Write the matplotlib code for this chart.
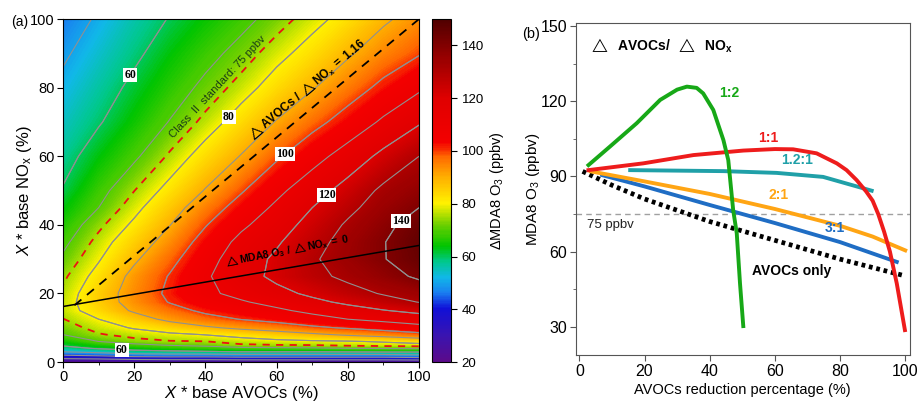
import numpy as np
import matplotlib
matplotlib.use('Agg')
import matplotlib.pyplot as plt
from matplotlib.colors import LinearSegmentedColormap
from matplotlib.ticker import MultipleLocator

plt.rcParams['font.family'] = ['Liberation Sans', 'DejaVu Sans']
plt.rcParams['mathtext.fontset'] = 'custom'
plt.rcParams['mathtext.rm'] = 'Liberation Sans'
plt.rcParams['mathtext.it'] = 'Liberation Sans:italic'
plt.rcParams['mathtext.bf'] = 'Liberation Sans:bold'

# ---------------- panel (a): dMDA8 O3 isopleth ----------------
avoc_pct = [0, 10, 20, 30, 40, 50, 60, 70, 80, 90, 100]
nox_pct = [0, 1, 2, 3, 4, 5, 6, 8, 10, 12.5, 15, 17.5, 20, 25, 30, 35, 40, 45, 50, 60, 70, 80, 90, 100]

# one list per AVOCs column, values going up in NOx
o3_x0 = [20, 30, 40, 50, 57, 61.4, 64.3, 70, 72.2, 74.8, 76.7, 76.8, 76, 73.9, 71.1, 68.4, 65.8, 63.2, 60.5, 57.4, 54.5, 51.7, 48.9, 46]
o3_x10 = [20, 31, 42, 53, 60.9, 65.5, 70, 74.5, 77.1, 80, 83.7, 85.4, 85.2, 82.5, 79.4, 76.8, 73.7, 70, 67.8, 63.4, 59.4, 56.6, 53.8, 51]
o3_x20 = [21, 33, 45, 57, 63.5, 68.5, 73.2, 76.8, 80.6, 86, 91.2, 93.4, 94, 92.5, 88.7, 85, 81.3, 78, 74.9, 68.9, 64.7, 61.7, 58.6, 56]
o3_x30 = [21, 34, 46, 58, 65.5, 70.7, 74.6, 78.5, 84.5, 92.2, 96.6, 100.5, 101.8, 100.6, 97.5, 93.7, 89.8, 86.1, 82.3, 75.8, 70.3, 66.6, 63.5, 60.4]
o3_x40 = [21, 34, 46, 59, 66.9, 71.8, 74.9, 80.2, 88.5, 96.8, 101.8, 105.6, 108.2, 108.8, 106.5, 103.5, 99.5, 95.2, 90.5, 83.2, 76.5, 71.6, 67.8, 64.3]
o3_x50 = [21, 35, 47, 60, 68.3, 74.5, 76.7, 82.6, 92, 100.3, 105.2, 109.1, 112.5, 116, 115.1, 112.5, 108.2, 103.7, 99.1, 90.4, 83.3, 77.1, 72.2, 68]
o3_x60 = [21, 35, 47, 60, 68.7, 75, 78, 85.4, 94.6, 103.3, 108.4, 112.9, 117.3, 122.2, 121.7, 118.9, 115.4, 111.8, 107.7, 98.7, 90.5, 83.3, 77.8, 72.5]
o3_x70 = [21, 35, 47, 60, 69, 75.3, 78.8, 88.3, 98.2, 106.7, 112.2, 117.8, 121.8, 127.3, 128.8, 126.5, 123.5, 120, 115.7, 106.4, 97.1, 89.4, 83, 77.7]
o3_x80 = [21, 35, 47, 60.5, 70, 76.5, 79.4, 91.3, 101, 110, 116.3, 121.8, 126.4, 132.2, 134.5, 133.6, 131.3, 127.6, 123.7, 114.1, 103.8, 95.7, 88.9, 82.7]
o3_x90 = [21, 35, 47, 61, 70.4, 77.3, 80.7, 94, 103.9, 112.5, 119.5, 126, 130.8, 136.5, 139.6, 139.6, 137.5, 134.8, 132, 122.5, 111.5, 102.2, 94.6, 88.7]
o3_x100 = [21, 36, 49, 61, 71, 77.7, 83.1, 97.3, 106.7, 115, 122.6, 130.3, 134, 141.5, 144.8, 146, 144.3, 140, 136.7, 130, 119, 108.5, 99.4, 93.5]

grey_levels = [30, 40, 50, 60, 70, 80, 90, 100, 110, 120, 130, 140]
label_levels = [60, 80, 100, 120, 140]
standard_level = 75
ratio = 1.16                       # dAVOCs / dNOx reduction path through (100, 100)
ratio_x = [3.2, 100]
ridge_x = [0, 100]                 # dMDA8 O3 / dNOx = 0
ridge_y = [16.2, 34]

# ---------------- panel (b) ----------------
g12_x = [2.8, 9.4, 17.6, 24.8, 30, 33, 36, 38, 41.1, 44.2, 45.7, 46.7, 47.2, 48.3, 49.3, 50.3]
g12_y = [94.5, 101.9, 111.2, 120.5, 124.6, 125.8, 125.3, 123.1, 116.5, 104.5, 96.5, 83.2, 76.6, 67.3, 47.3, 30.3]
r11_x = [2.8, 19.6, 35, 50.3, 60, 65.6, 72.8, 79, 82, 85.1, 88, 90, 91.7, 93.5, 95.3, 97.4, 99.9]
r11_y = [92.5, 95.2, 98.5, 100.3, 100.9, 100.8, 99.2, 95.2, 92.5, 88.5, 84, 80.3, 75, 68, 60, 47.3, 28.7]
t121_x = [15.6, 44.2, 60.5, 74.8, 89.7]
t121_y = [92.5, 92.1, 91.4, 89.8, 84.3]
o21_x = [3.5, 20, 40, 50, 60, 80, 90, 100]
o21_y = [92, 88, 83, 80, 77, 70.3, 66, 60.5]
b31_x = [7, 20, 40, 60, 80, 97.4]
b31_y = [90.5, 86, 78.6, 71.4, 63.8, 55.9]
only_x = [1, 10, 20, 40, 60, 80, 100]
only_y = [92, 86.5, 81, 72, 64.5, 57, 50.3]

cmap_vals = [20, 30, 40, 46, 52, 58, 64, 72, 80, 90, 98, 103, 120, 135, 150]
cmap_cols = ['#5b0a8a', '#3a14b0', '#1010d8', '#1a7ef0', '#10b8e8', '#00c88c', '#00c400',
             '#70d000', '#fff200', '#ffb000', '#ff6a00', '#f40000', '#e00000', '#9a0000', '#500000']
cmap = LinearSegmentedColormap.from_list(
    'o3', [((v - 20) / 130, c) for v, c in zip(cmap_vals, cmap_cols)])

fig = plt.figure(figsize=(9.19, 4.05), dpi=100)
ax = fig.add_axes([0.0686, 0.106, 0.3874, 0.847])
cax = fig.add_axes([0.470, 0.106, 0.021, 0.847])
bx = fig.add_axes([0.6265, 0.123, 0.3635, 0.821])

X, Y = np.meshgrid(avoc_pct, nox_pct)
Z = np.array([o3_x0, o3_x10, o3_x20, o3_x30, o3_x40, o3_x50, o3_x60,
              o3_x70, o3_x80, o3_x90, o3_x100]).T

pc = ax.contourf(X, Y, Z, levels=np.arange(19.5, 151, 0.5), cmap=cmap, vmin=20, vmax=150)
ax.contour(X, Y, Z, levels=grey_levels, colors='#909090', linewidths=0.8)
cs = ax.contour(X, Y, Z, levels=label_levels, colors='#909090', linewidths=0.8)
ax.contour(X, Y, Z, levels=[standard_level], colors='#ee1111', linewidths=1.3,
           linestyles=[(0, (4, 3.5))])

lab_pos = [(20, 83), (16.5, 2.7), (46.4, 71.7), (62.4, 60.6), (73.6, 49.2), (94.7, 41.4)]
labels = ax.clabel(cs, manual=lab_pos, inline=False, fmt='%d', fontsize=8.5, colors='black')
for t in labels:
    t.set_rotation(0)
    t.set_fontfamily('Liberation Serif')
    t.set_fontweight('bold')
    t.set_bbox(dict(facecolor='white', edgecolor='none', pad=0.8))

rx = np.array(ratio_x)
ax.plot(rx, 100 - (100 - rx) / ratio, color='black', lw=1.3, dashes=(5, 4))
ax.plot(ridge_x, ridge_y, color='black', lw=1.1)

ax.text(43.3, 80.2, 'Class  II  standard: 75 ppbv', rotation=47, ha='center', va='center',
        fontsize=8, color='#173d17')
ax.text(68.4, 79.3, r'$\mathbf{\triangle AVOCs\ /\ \triangle NO_x\ =\ 1.16}$', rotation=40,
        ha='center', va='center', fontsize=8.5)
ax.text(62.8, 32.4, r'$\mathbf{\triangle MDA8\ O_3\ /\ \triangle NO_x\ =\ 0}$', rotation=11,
        ha='center', va='center', fontsize=7.5)

ax.set_xlim(0, 100)
ax.set_ylim(0, 100)
ax.xaxis.set_major_locator(MultipleLocator(20))
ax.xaxis.set_minor_locator(MultipleLocator(10))
ax.yaxis.set_major_locator(MultipleLocator(20))
ax.tick_params(labelsize=10.5, direction='out', length=4, pad=2)
ax.tick_params(which='minor', length=2.5)
ax.set_xlabel('$X$ * base AVOCs (%)', fontsize=12, labelpad=0)
ax.set_ylabel('$X$ * base NO$_\\mathregular{x}$ (%)', fontsize=12, labelpad=-3)
fig.text(0.012, 0.935, '(a)', fontsize=10)

cb = fig.colorbar(pc, cax=cax, ticks=[20, 40, 60, 80, 100, 120, 140])
cb.ax.tick_params(labelsize=9.5, length=4)
cb.set_label('ΔMDA8 O$_\\mathregular{3}$ (ppbv)', fontsize=10.5, labelpad=3)
cb.outline.set_linewidth(0.8)
cax.set_ylim(20, 150)

# ---------------- panel (b) ----------------
bx.axhline(75, color='#a0a0a0', lw=1, dashes=(4, 3))
bx.plot(only_x, only_y, color='black', lw=3.4, linestyle=(0, (0.8, 0.8)), dash_capstyle='butt')
bx.plot(b31_x, b31_y, color='#1f6dc4', lw=2.8)
bx.plot(o21_x, o21_y, color='#ffa514', lw=2.8)
bx.plot(t121_x, t121_y, color='#20a0a8', lw=2.8)
bx.plot(r11_x, r11_y, color='#ee1c1c', lw=2.8)
bx.plot(g12_x, g12_y, color='#17a817', lw=2.8)

bx.text(46, 123.1, '1:2', color='#17a817', fontsize=10, fontweight='bold', ha='center', va='center')
bx.text(58, 105.5, '1:1', color='#ee1c1c', fontsize=10, fontweight='bold', ha='center', va='center')
bx.text(66.7, 96.7, '1.2:1', color='#20a0a8', fontsize=10, fontweight='bold', ha='center', va='center')
bx.text(61, 82.7, '2:1', color='#ffa514', fontsize=10, fontweight='bold', ha='center', va='center')
bx.text(78.4, 69.6, '3:1', color='#1f6dc4', fontsize=10, fontweight='bold', ha='center', va='center')
bx.text(65.1, 52.1, 'AVOCs only', color='black', fontsize=10, fontweight='bold', ha='center', va='center')
bx.text(9.4, 70.8, '75 ppbv', color='#222222', fontsize=9.5, ha='center', va='center')
bx.text(3.0, 142, r'$\triangle\ \ \mathbf{AVOCs/}\ \ \triangle\ \ \mathbf{NO_x}$', fontsize=10,
        ha='left', va='center')

bx.set_xlim(-1.1, 101.4)
bx.set_ylim(18.7, 151.3)
bx.xaxis.set_major_locator(MultipleLocator(20))
bx.yaxis.set_major_locator(MultipleLocator(30))
bx.yaxis.set_minor_locator(MultipleLocator(15))
bx.tick_params(labelsize=11.5, direction='out', length=4, color='#555555', pad=2)
bx.tick_params(which='minor', length=2.5, color='#555555')
for s in bx.spines.values():
    s.set_color('#555555')
bx.set_xlabel('AVOCs reduction percentage (%)', fontsize=10.5, labelpad=3)
bx.set_ylabel('MDA8 O$_\\mathregular{3}$ (ppbv)', fontsize=11, labelpad=-1)
fig.text(0.568, 0.905, '(b)', fontsize=10.5)

fig.savefig('out.png', dpi=100)
